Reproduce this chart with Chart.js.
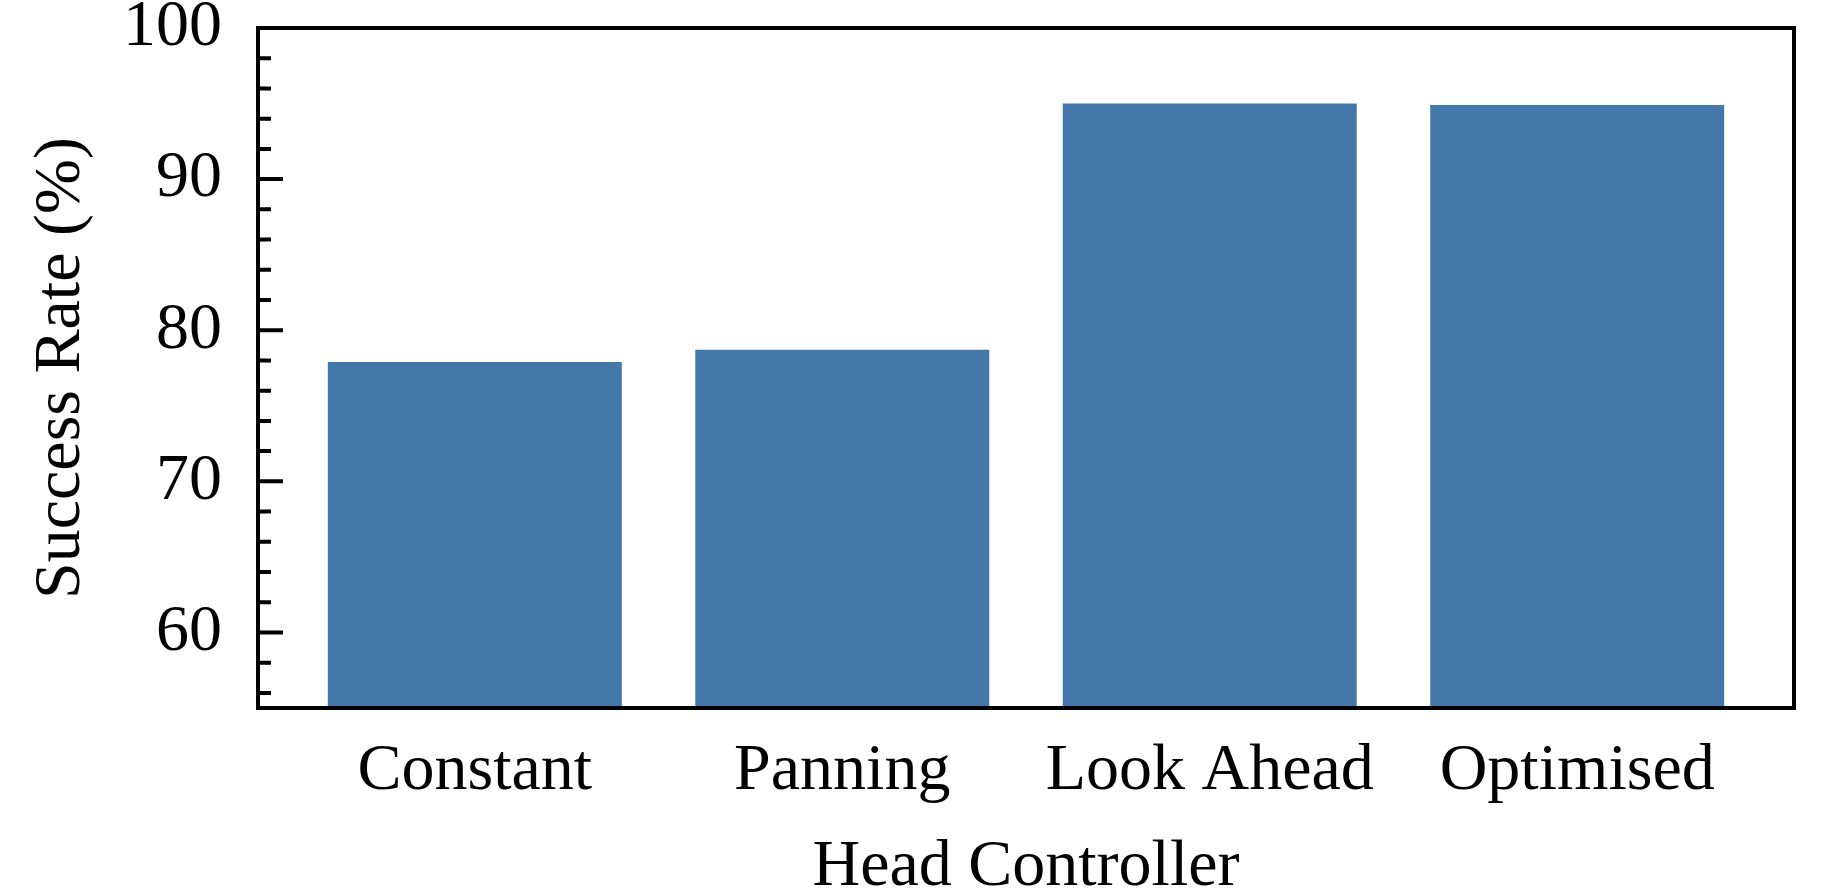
<!DOCTYPE html>
<html>
<head>
<meta charset="utf-8">
<script src="https://cdn.jsdelivr.net/npm/chart.js@4"></script>
<style>
  body { margin: 0; background: #fff; }
  #wrap { width: 1822px; height: 894px; position: relative; }
</style>
</head>
<body>
<div id="wrap"><canvas id="canvas"></canvas></div>
<script>
// data
const controllers = ['Constant', 'Panning', 'Look Ahead', 'Optimised'];
const successRate = [77.9, 78.7, 95.0, 94.9];
const yTicks = [60, 70, 80, 90, 100];
const yMinorTicks = [56, 58, 62, 64, 66, 68, 72, 74, 76, 78, 82, 84, 86, 88, 92, 94, 96, 98];
const yMin = 55, yMax = 100;
const xMin = -0.59, xMax = 3.59;

const serif = 'Liberation Serif';

// matplotlib style frame with inward ticks on the left
const frame = {
    id: 'frame',
    afterDraw(chart) {
        const ctx = chart.ctx;
        const a = chart.chartArea;
        const y = chart.scales.y;
        ctx.save();
        ctx.strokeStyle = '#000';
        ctx.lineWidth = 4;
        ctx.lineCap = 'butt';
        ctx.beginPath();
        yTicks.forEach(v => {
            const py = y.getPixelForValue(v);
            ctx.moveTo(a.left, py);
            ctx.lineTo(a.left + 25, py);
        });
        yMinorTicks.forEach(v => {
            const py = y.getPixelForValue(v);
            ctx.moveTo(a.left, py);
            ctx.lineTo(a.left + 13, py);
        });
        ctx.stroke();
        ctx.strokeRect(a.left, a.top, a.right - a.left, a.bottom - a.top);
        ctx.restore();
    }
};

const ctx = document.getElementById('canvas').getContext('2d');
const config = {
    type: 'bar',
    data: {
        datasets: [{
            data: controllers.map((c, i) => ({x: i, y: successRate[i]})),
            backgroundColor: '#4477aa',
            borderWidth: 0,
            barPercentage: 0.8,
            categoryPercentage: 1.0
        }]
    },
    options: {
        responsive: true,
        maintainAspectRatio: false,
        animation: false,
        layout: { padding: { top: 28, right: 28, bottom: 0, left: 0 } },
        plugins: { legend: { display: false }, tooltip: { enabled: false } },
        scales: {
            x: {
                type: 'linear',
                offset: false,
                min: xMin,
                max: xMax,
                grid: { display: false, offset: false },
                border: { display: false },
                afterBuildTicks: axis => { axis.ticks = controllers.map((c, i) => ({value: i})); },
                afterFit: scale => {
                    scale.height = 186;
                    scale.paddingLeft = 0;
                    scale.paddingRight = 0;
                },
                ticks: {
                    callback: v => controllers[v],
                    color: '#000',
                    padding: 16,
                    maxRotation: 0,
                    autoSkip: false,
                    font: { family: serif, size: 66, lineHeight: 1.2 }
                },
                title: {
                    display: true,
                    text: 'Head Controller',
                    color: '#000',
                    padding: 0,
                    font: { family: serif, size: 66, lineHeight: 0.8 }
                }
            },
            y: {
                min: yMin,
                max: yMax,
                grid: { display: false },
                border: { display: false },
                afterBuildTicks: axis => { axis.ticks = yTicks.map(v => ({value: v})); },
                afterFit: scale => {
                    scale.width = 258;
                    scale.paddingTop = 0;
                    scale.paddingBottom = 0;
                },
                ticks: {
                    color: '#000',
                    padding: 28,
                    font: { family: serif, size: 66, lineHeight: 1.2 }
                },
                title: {
                    display: true,
                    text: 'Success Rate (%)',
                    color: '#000',
                    padding: { top: 22, bottom: 0 },
                    font: { family: serif, size: 66, lineHeight: 1.2 }
                }
            }
        }
    },
    plugins: [frame]
};
const myChart = new Chart(ctx, config);
</script>
</body>
</html>
